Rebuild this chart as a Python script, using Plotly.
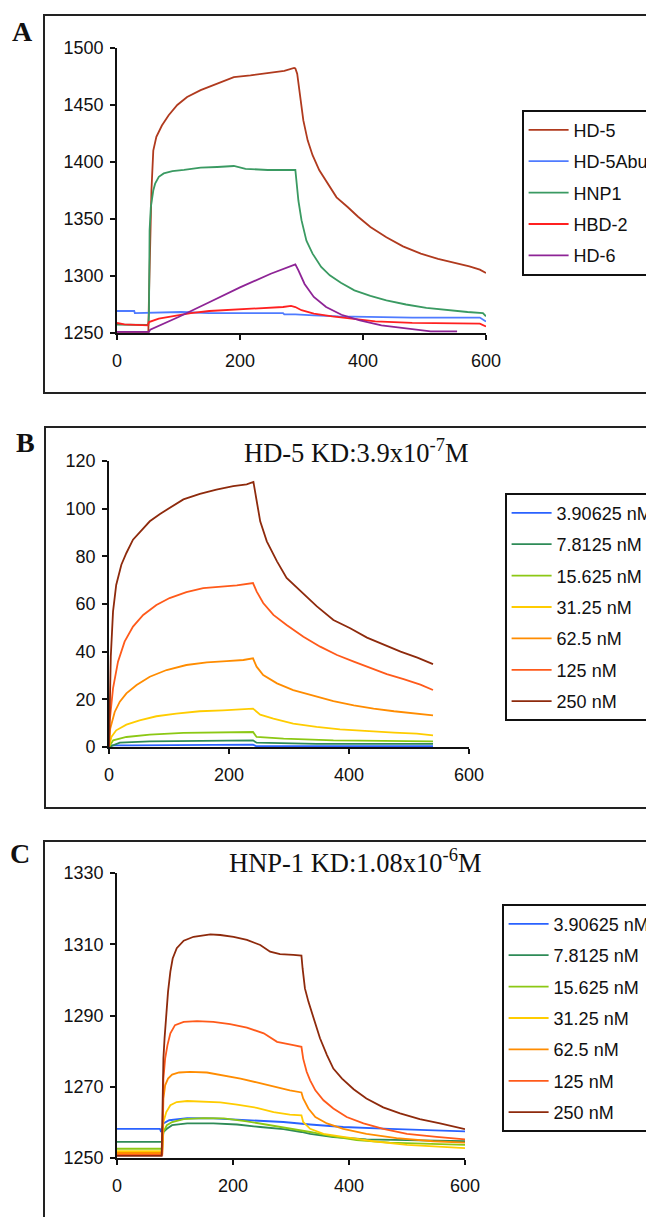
import plotly.graph_objects as go

# page body has an 8px margin: figure is sized/offset to compensate
OFF = 8
W, H = 654 - OFF, 1217 - OFF

# ---------------- Panel A data ----------------
A_names = ["HD-5", "HD-5Abu", "HNP1", "HBD-2", "HD-6"]
A_colors = ["#B03A1E", "#4F7BFF", "#3A9A62", "#FF2020", "#8E2496"]

A_hd5_t = [0, 51, 52, 54, 56, 59, 64, 73, 84, 98, 114, 136, 163, 190, 217, 245, 272, 288, 290, 293, 298, 303, 310, 318, 329, 343, 357, 375, 392, 412, 438, 465, 494, 522, 549, 573, 590, 600]
A_hd5_v = [1251, 1251, 1282, 1343, 1375, 1410, 1422, 1432, 1441, 1450, 1457, 1463, 1469, 1474.5, 1476, 1478, 1480, 1482.5, 1482, 1477.5, 1457, 1436.5, 1419, 1406, 1392.7, 1381, 1369, 1360.5, 1352, 1343, 1334, 1326, 1319.6, 1315, 1311.7, 1308.5, 1305.6, 1302.6]

A_abu_t = [0, 28, 29, 105, 150, 270, 272, 290, 320, 360, 480, 590, 600]
A_abu_v = [1269.3, 1269.3, 1267.5, 1268.4, 1267.5, 1267.5, 1266.4, 1266.4, 1265.5, 1264.6, 1263.5, 1263.5, 1260]

A_hnp1_t = [0, 51, 52, 53, 55, 57, 59, 62, 68, 76, 90, 109, 136, 163, 190, 209, 245, 290, 292, 295, 300, 308, 318, 332, 346, 364, 386, 412, 438, 470, 503, 535, 570, 595, 600]
A_hnp1_v = [1257.3, 1257, 1267, 1340, 1360.5, 1369, 1375, 1381, 1387, 1390, 1392, 1393, 1395, 1395.6, 1396.5, 1394, 1393, 1393, 1384, 1366, 1349, 1331, 1319.6, 1308, 1300.6, 1294, 1287.4, 1282.5, 1278.7, 1275, 1272, 1270, 1268.4, 1267.5, 1264.6]

A_hbd2_t = [0, 12, 50, 52, 68, 90, 120, 150, 190, 230, 270, 283, 290, 300, 320, 350, 380, 420, 480, 540, 590, 600]
A_hbd2_v = [1258.8, 1257.6, 1256.7, 1259.6, 1262.6, 1264.6, 1267.5, 1269.3, 1270.5, 1271.3, 1272.8, 1273.7, 1272.8, 1270, 1267, 1264.6, 1262.6, 1260.2, 1258.8, 1258.2, 1258.2, 1255.8]

A_hd6_t = [0, 40, 52, 54, 100, 150, 200, 250, 290, 295, 305, 320, 340, 365, 395, 430, 470, 510, 553]
A_hd6_v = [1250.9, 1250.9, 1250.9, 1253, 1264, 1277, 1290, 1302, 1310.2, 1305, 1293, 1281.6, 1272.8, 1266, 1261, 1256.7, 1253.8, 1251.5, 1251.5]

# ---------------- Panel B data ----------------
conc_names = ["3.90625 nM", "7.8125 nM", "15.625 nM", "31.25 nM", "62.5 nM", "125 nM", "250 nM"]
conc_colors = ["#2A62FF", "#2E8B57", "#8CC814", "#FFCC00", "#FF8C00", "#FF5A1A", "#8E2A0C"]

B_c1_t = [0, 5, 40, 150, 240, 245, 320, 540]
B_c1_v = [0, 0.7, 0.7, 1.0, 1.0, 0.4, 0.4, 0.4]

B_c2_t = [0, 18, 68, 151, 240, 246, 346, 540]
B_c2_v = [0, 1.8, 2.4, 2.7, 2.8, 1.8, 1.3, 1.3]

B_c3_t = [0, 7, 29, 68, 124, 179, 240, 246, 291, 374, 458, 540]
B_c3_v = [0, 2.8, 4.2, 5.2, 5.9, 6.0, 6.3, 4.2, 3.5, 2.8, 2.5, 2.4]

B_c4_t = [0, 4, 12, 29, 51, 79, 112, 151, 190, 224, 240, 252, 274, 307, 346, 385, 430, 475, 513, 540]
B_c4_v = [0, 4.2, 7.0, 9.4, 11.2, 12.9, 14.0, 15.0, 15.4, 15.7, 16.1, 13.6, 11.9, 9.8, 8.4, 7.4, 6.6, 6.0, 5.6, 4.9]

B_c5_t = [0, 2, 9.5, 18, 29, 46, 68, 96, 129, 163, 196, 224, 240, 246, 257, 280, 307, 341, 374, 408, 441, 475, 508, 540]
B_c5_v = [0, 7.7, 14.7, 19.0, 22.5, 26.0, 29.5, 32.3, 34.4, 35.5, 36.0, 36.5, 37.2, 33.7, 30.2, 26.7, 23.9, 21.5, 19.2, 17.5, 16.1, 15.0, 14.0, 13.3]

B_c6_t = [0, 1, 6.7, 15, 26, 40, 57, 79, 101, 129, 157, 185, 213, 240, 246, 257, 274, 296, 324, 352, 380, 408, 436, 463, 491, 519, 540]
B_c6_v = [0, 10.5, 24.6, 35.8, 44.2, 50.5, 55.4, 59.6, 62.5, 65.0, 66.7, 67.4, 67.8, 68.8, 65.3, 60.4, 55.4, 51.2, 46.3, 42.1, 38.6, 35.8, 33.0, 30.6, 28.5, 26.2, 23.9]

B_c7_t = [0, 1, 2, 3, 6.7, 12, 20.6, 29, 40, 54, 68, 85, 101, 124, 151.5, 179, 207, 229.5, 240.7, 245, 252, 263, 280, 296, 319, 346.5, 374, 402, 430, 458, 486, 514, 540]
B_c7_v = [0, 15, 25, 38, 56.8, 68, 76.5, 81.4, 87, 90.8, 94.7, 97.8, 100.4, 103.9, 106.2, 108, 109.5, 110.2, 111.2, 104.6, 94.7, 86.3, 77.9, 70.9, 65.3, 59, 53.3, 49.8, 45.9, 42.8, 40, 37.5, 34.8]

# ---------------- Panel C data ----------------
C_c1_t = [0, 74, 76, 80, 90, 121, 166, 224, 287, 333, 390, 470, 540, 600]
C_c1_v = [1258.2, 1258.2, 1257.3, 1259.7, 1260.6, 1261.2, 1261.1, 1260.6, 1260.1, 1259.4, 1258.7, 1258.2, 1257.8, 1257.5]

C_c2_t = [0, 78, 80, 86, 95, 121, 166, 207, 247, 287, 318, 333, 373, 430, 500, 600]
C_c2_v = [1254.5, 1254.5, 1257.3, 1258.2, 1259.2, 1259.7, 1259.7, 1259.4, 1258.7, 1258.1, 1257.3, 1256.8, 1255.9, 1255.2, 1255.0, 1254.7]

C_c3_t = [0, 78, 80, 86, 95, 115, 149, 184, 224, 264, 298, 318, 333, 367, 413, 470, 540, 600]
C_c3_v = [1252.6, 1252.6, 1257.3, 1259.2, 1260.1, 1260.9, 1261.2, 1261.1, 1260.3, 1259.2, 1258.2, 1257.8, 1257.3, 1256.2, 1255.0, 1254.3, 1254.0, 1253.7]

C_c4_t = [0, 78, 80, 85, 92, 103, 121, 149, 178, 207, 241, 270, 298, 318, 321, 333, 356, 390, 442, 500, 560, 600]
C_c4_v = [1251.9, 1251.9, 1260.1, 1262.9, 1264.8, 1265.7, 1266.0, 1265.9, 1265.6, 1265.0, 1264.1, 1262.9, 1262.2, 1262.0, 1260.1, 1258.2, 1256.8, 1255.9, 1254.7, 1253.7, 1253.1, 1252.8]

C_c5_t = [0, 78, 80, 83, 88, 95, 107, 126, 155, 184, 213, 241, 270, 298, 318, 321, 330, 342, 362, 390, 430, 482, 545, 600]
C_c5_v = [1251.4, 1251.4, 1266.7, 1270.4, 1272.3, 1273.4, 1274.0, 1274.2, 1274.0, 1273.2, 1272.3, 1271.2, 1270.0, 1269.0, 1268.4, 1266.7, 1263.9, 1261.5, 1259.7, 1258.2, 1256.8, 1255.6, 1254.7, 1254.3]

C_c6_t = [0, 78, 80, 83, 87, 92, 100, 115, 138, 166, 195, 224, 253, 276, 304, 318, 321, 327, 333, 342, 356, 373, 396, 425, 459, 500, 551, 600]
C_c6_v = [1250.9, 1250.9, 1272.3, 1277.9, 1281.7, 1285.0, 1287.3, 1288.2, 1288.4, 1288.2, 1287.6, 1286.6, 1285.0, 1282.6, 1281.7, 1281.2, 1277.9, 1274.2, 1271.8, 1269.0, 1266.2, 1263.9, 1261.5, 1259.7, 1258.2, 1256.8, 1255.9, 1255.2]

C_c7_t = [0, 77, 78, 80, 82, 85, 88, 92, 96, 103, 115, 132, 161, 178, 201, 224, 247, 264, 281, 304, 318, 320, 324, 330, 339, 350, 362, 373, 388, 408, 430, 459, 488, 522, 557, 586, 600]
C_c7_v = [1250.6, 1250.6, 1259.2, 1277.9, 1283.6, 1290.0, 1296.7, 1302.3, 1306.0, 1308.9, 1311.0, 1312.1, 1312.8, 1312.6, 1312.1, 1311.2, 1309.8, 1307.9, 1307.2, 1307.0, 1306.8, 1303.2, 1297.6, 1293.9, 1289.2, 1283.6, 1278.9, 1275.1, 1272.3, 1269.3, 1266.7, 1264.2, 1262.5, 1260.9, 1259.7, 1258.7, 1258.1]

x_ticks = [0, 200, 400, 600]
A_yticks = [1250, 1300, 1350, 1400, 1450, 1500]
B_yticks = [0, 20, 40, 60, 80, 100, 120]
C_yticks = [1250, 1270, 1290, 1310, 1330]

A_series = [(A_hd5_t, A_hd5_v), (A_abu_t, A_abu_v), (A_hnp1_t, A_hnp1_v), (A_hbd2_t, A_hbd2_v), (A_hd6_t, A_hd6_v)]
B_series = [(B_c1_t, B_c1_v), (B_c2_t, B_c2_v), (B_c3_t, B_c3_v), (B_c4_t, B_c4_v), (B_c5_t, B_c5_v), (B_c6_t, B_c6_v), (B_c7_t, B_c7_v)]
C_series = [(C_c1_t, C_c1_v), (C_c2_t, C_c2_v), (C_c3_t, C_c3_v), (C_c4_t, C_c4_v), (C_c5_t, C_c5_v), (C_c6_t, C_c6_v), (C_c7_t, C_c7_v)]

SANS = "Liberation Sans, Arial, sans-serif"
SERIF = "Liberation Serif, Times New Roman, serif"


def px_x(p):
    return (p - OFF) / W


def px_y(p):
    return 1 - (p - OFF) / H


fig = go.Figure()

panels = [
    ("x", "y", "legend", A_names, A_colors, A_series),
    ("x2", "y2", "legend2", conc_names, conc_colors, B_series),
    ("x3", "y3", "legend3", conc_names, conc_colors, C_series),
]
for xa, ya, lg, names, colors, series in panels:
    for name, color, (t, v) in zip(names, colors, series):
        fig.add_trace(go.Scatter(
            x=t, y=v, mode="lines", name=name, xaxis=xa, yaxis=ya,
            line=dict(color=color, width=1.8),
            legend=lg, legendgroup=f"{lg}_{name}", showlegend=True,
        ))


def axis_common():
    return dict(showline=True, linecolor="#111", linewidth=1.6, ticks="outside",
                ticklen=5, tickwidth=1.6, tickcolor="#111", showgrid=False,
                zeroline=False, tickfont=dict(family=SANS, size=18, color="#111"))


# axis pixel boxes: (x_left, x_right, y_top, y_bottom)
boxes = {
    "A": (117, 486, 48, 333),
    "B": (109, 469, 461, 747),
    "C": (117, 465, 873, 1158),
}

layout = dict(
    width=W, height=H, margin=dict(l=0, r=0, t=0, b=0, autoexpand=False),
    paper_bgcolor="white", plot_bgcolor="white", showlegend=True,
)

for key, suffix, yt, yr in [("A", "", A_yticks, [1250, 1500]), ("B", "2", B_yticks, [0, 120]), ("C", "3", C_yticks, [1250, 1330])]:
    xl, xr, yt_px, yb_px = boxes[key]
    xa = axis_common()
    xa.update(domain=[px_x(xl), px_x(xr)], range=[0, 600], tickvals=x_ticks,
              anchor="y" + suffix, ticklabelstandoff=6)
    ya = axis_common()
    ya.update(domain=[px_y(yb_px), px_y(yt_px)], range=yr, tickvals=yt,
              anchor="x" + suffix, ticklabelstandoff=3)
    layout["xaxis" + suffix] = xa
    layout["yaxis" + suffix] = ya

legend_pos = {"legend": (522, 110), "legend2": (505, 493), "legend3": (502, 904)}
for lg, (lx, ly) in legend_pos.items():
    layout[lg] = dict(x=px_x(lx), y=px_y(ly), xanchor="left", yanchor="top",
                      xref="paper", yref="paper",
                      bordercolor="#111", borderwidth=1.6, bgcolor="white",
                      font=dict(family=SANS, size=18, color="#111"),
                      traceorder="grouped", tracegroupgap=5, itemwidth=40)

fig.update_layout(**layout)

# panel frames
frames = [(44, 15, 393), (45, 427, 808), (44, 841, 1240)]
for lx, ty, by in frames:
    fig.add_shape(type="rect", xref="paper", yref="paper",
                  x0=px_x(lx), x1=1.05, y0=px_y(by), y1=px_y(ty),
                  line=dict(color="#222", width=2), fillcolor="rgba(0,0,0,0)", layer="below")

# panel letters
for letter, lx, ly in [("A", 22, 32), ("B", 25, 443), ("C", 20, 853)]:
    fig.add_annotation(text=f"<b>{letter}</b>", x=px_x(lx), y=px_y(ly), xref="paper", yref="paper",
                       showarrow=False, xanchor="center", yanchor="middle",
                       font=dict(family=SERIF, size=28, color="#111"))

# titles
for txt, cx, cy in [("HD-5 KD:3.9x10<sup>-7</sup>M", 356, 451), ("HNP-1 KD:1.08x10<sup>-6</sup>M", 355, 861)]:
    fig.add_annotation(text=txt, x=px_x(cx), y=px_y(cy), xref="paper", yref="paper",
                       showarrow=False, xanchor="center", yanchor="middle",
                       font=dict(family=SERIF, size=26.5, color="#111"))

fig.write_html("out.html")
